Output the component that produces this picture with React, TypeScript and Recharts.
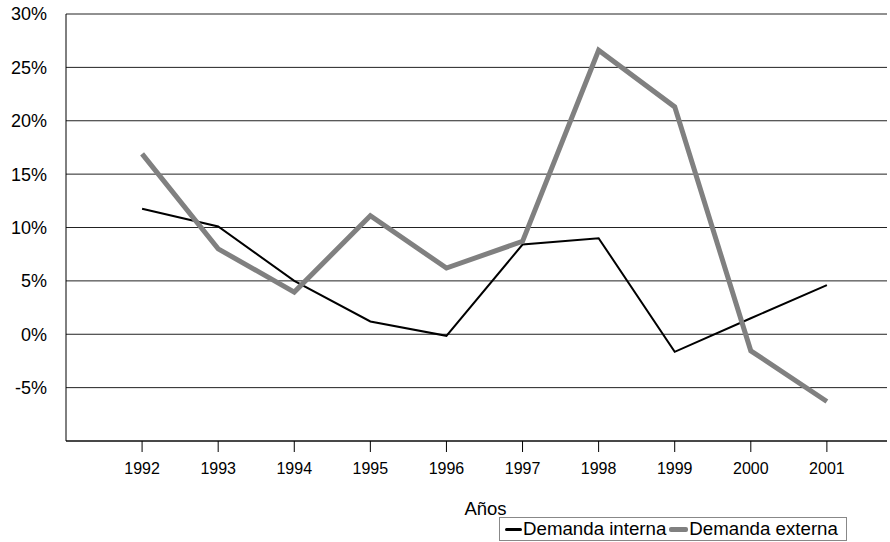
import React from 'react';
import { LineChart, Line, XAxis, YAxis, CartesianGrid } from 'recharts';

const years = [1992, 1993, 1994, 1995, 1996, 1997, 1998, 1999, 2000, 2001];
const demandaInterna = [11.75, 10.1, 5.0, 1.2, -0.15, 8.4, 9.0, -1.65, 1.5, 4.6];
const demandaExterna = [16.9, 8.0, 3.95, 11.1, 6.2, 8.7, 26.6, 21.3, -1.55, -6.3];
const yTicks = [-10, -5, 0, 5, 10, 15, 20, 25, 30];
const seriesNames = ['Demanda interna', 'Demanda externa'];
const seriesColors = ['#000000', '#808080'];
const seriesWidths = [2, 5];

const data = years.map((y, i) => ({
  year: y,
  interna: demandaInterna[i],
  externa: demandaExterna[i],
}));

const font = 'Liberation Sans, Arial, sans-serif';

export default function App() {
  return (
    <div style={{ position: 'absolute', left: 0, top: 0, width: 890, height: 542, background: '#fff', fontFamily: font }}>
      <LineChart width={890} height={542} data={data} margin={{ top: 14, right: 3, left: 0, bottom: 0 }}>
        <CartesianGrid horizontal={true} vertical={false} stroke="#222" strokeWidth={1} />
        <XAxis
          dataKey="year"
          type="number"
          domain={[1991, 2001.79]}
          ticks={years}
          allowDataOverflow
          height={101}
          stroke="#000"
          tickSize={11}
          tickMargin={11}
          tick={{ fill: '#000', fontSize: 16, fontFamily: font }}
          label={{ value: 'Años', position: 'insideBottom', offset: 27, dx: 9, fill: '#000', fontSize: 18.5, fontFamily: font }}
        />
        <YAxis
          type="number"
          domain={[-10, 30]}
          ticks={yTicks}
          width={66}
          stroke="#000"
          tickLine={false}
          tickSize={6}
          tickMargin={13}
          interval={0}
          tickFormatter={(v: number) => (v === -10 ? '' : `${v}%`)}
          tick={{ fill: '#000', fontSize: 18, fontFamily: font }}
        />
        <Line dataKey="interna" name={seriesNames[0]} stroke={seriesColors[0]} strokeWidth={seriesWidths[0]} dot={false} isAnimationActive={false} />
        <Line dataKey="externa" name={seriesNames[1]} stroke={seriesColors[1]} strokeWidth={seriesWidths[1]} dot={false} isAnimationActive={false} />
      </LineChart>
      <div
        style={{
          position: 'absolute',
          left: 499,
          top: 517,
          width: 348,
          height: 24,
          border: '1px solid #888',
          boxSizing: 'border-box',
          display: 'flex',
          alignItems: 'center',
          fontSize: 18.7,
          lineHeight: '22px',
          color: '#000',
          whiteSpace: 'nowrap',
          paddingLeft: 5,
        }}
      >
        {seriesNames.map((n, i) => (
          <span key={n} style={{ display: 'flex', alignItems: 'center' }}>
            <span style={{ display: 'inline-block', width: i === 0 ? 17 : 19, height: seriesWidths[i] === 2 ? 3 : 5, background: seriesColors[i], borderRadius: 2, marginRight: 1, marginLeft: i === 0 ? 0 : 3 }} />
            <span>{n}</span>
          </span>
        ))}
      </div>
    </div>
  );
}
